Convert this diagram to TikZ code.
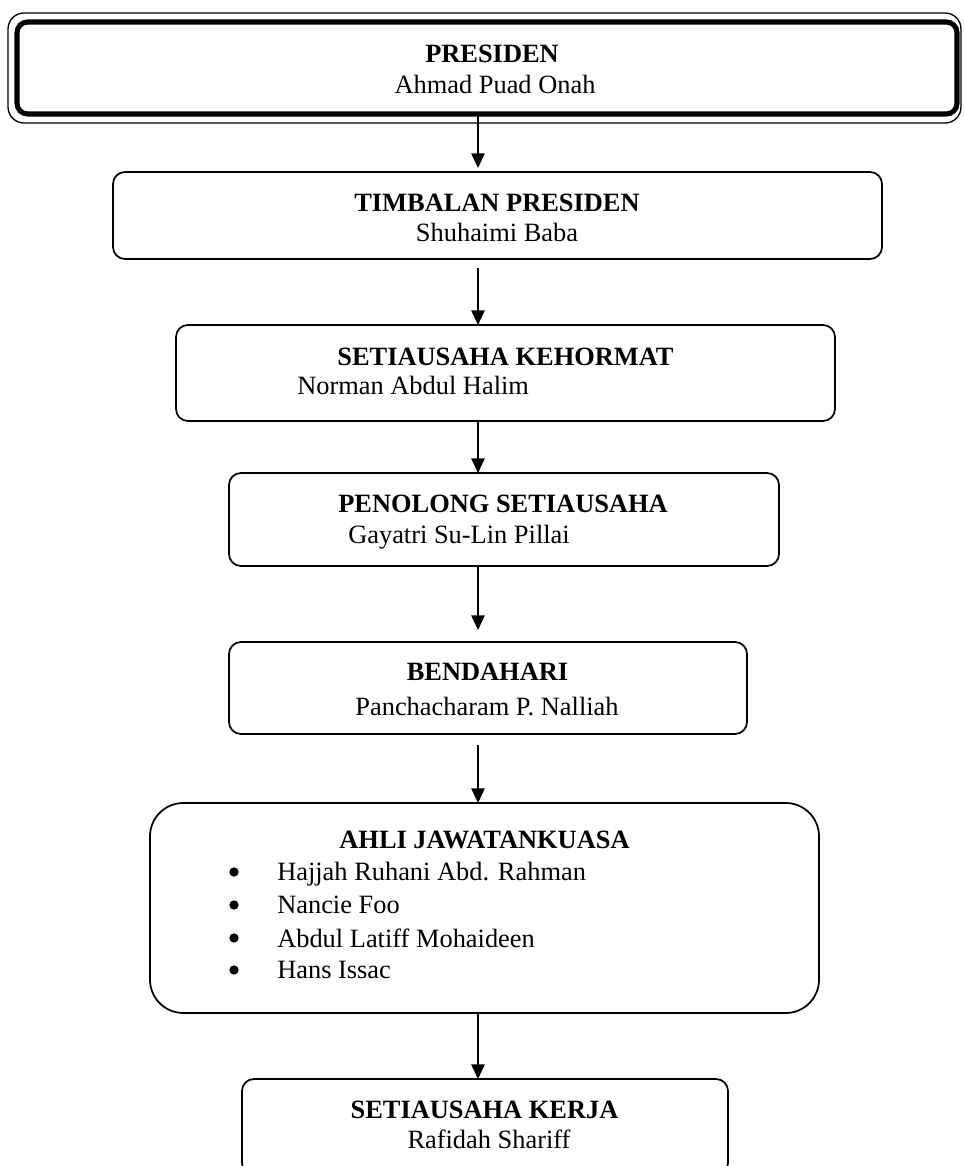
\documentclass[tikz,border=0pt]{standalone}
\usepackage{fontspec}
\setmainfont{Liberation Serif}
\usetikzlibrary{arrows.meta}
\newcommand{\orgsize}{\fontsize{19.8pt}{24pt}\selectfont}

\begin{document}
\begin{tikzpicture}[x=0.75pt,y=-0.75pt,>={Triangle[width=10pt,length=11pt]},
        post/.style={draw,line width=1.3pt,rounded corners=9pt,inner sep=0pt,outer sep=0pt},
        title/.style={anchor=base,inner sep=0pt,font=\orgsize\bfseries},
        person/.style={anchor=base,inner sep=0pt,font=\orgsize},
        member/.style={anchor=base west,inner sep=0pt,font=\orgsize},
        dot/.style={circle,fill,inner sep=0pt,minimum size=7pt},
        link/.style={->,line width=1.3pt}]
        \path[use as bounding box,clip] (0,0) rectangle (963,1166);
        \coordinate (spine) at (478,0);

        \node[post,line width=3.8pt,rounded corners=8pt,minimum width=705pt,minimum height=69pt] (presiden) at (487,68) {};
        \draw[line width=1pt,rounded corners=12pt] ([shift={(-9,-9)}]presiden.north west) rectangle ([shift={(4,9)}]presiden.south east);
        \node[post,minimum width=576.75pt,minimum height=65.25pt] (timbalan) at (497.5,215.5) {};
        \node[post,minimum width=494.25pt,minimum height=72pt] (kehormat) at (505.5,373) {};
        \node[post,minimum width=412.5pt,minimum height=69.75pt] (penolong) at (504,519.5) {};
        \node[post,minimum width=388.5pt,minimum height=69pt] (bendahari) at (488,688) {};
        \node[post,rounded corners=25pt,minimum width=501.75pt,minimum height=157.5pt] (ajk) at (484.5,908) {};
        \node[post,minimum width=364.5pt,minimum height=72pt] (kerja) at (485,1127) {};

        \draw[link,shorten >=3pt] (presiden.south -| spine) -- (timbalan.north -| spine);
        \draw[link,shorten <=6.75pt] (timbalan.south -| spine) -- (kehormat.north -| spine);
        \draw[link] (kehormat.south -| spine) -- (penolong.north -| spine);
        \draw[link,shorten >=9pt] (penolong.south -| spine) -- (bendahari.north -| spine);
        \draw[link,shorten <=8pt] (bendahari.south -| spine) -- (ajk.north -| spine);
        \draw[link] (ajk.south -| spine) -- (kerja.north -| spine);

        \node[title] (tPresiden) at (492,63) {PRESIDEN};
        \node[person] (nPresiden) at (495,94) {Ahmad Puad Onah};
        \node[title] (tTimbalan) at (497,212) {TIMBALAN PRESIDEN};
        \node[person] (nTimbalan) at (497,242) {Shuhaimi Baba};
        \node[title] (tKehormat) at (505.5,365) {SETIAUSAHA KEHORMAT};
        \node[member] (nKehormat) at (297,394) {Norman Abdul Halim};
        \node[title] (tPenolong) at (503,512) {PENOLONG SETIAUSAHA};
        \node[member] (nPenolong) at (348,543) {Gayatri Su-Lin Pillai};
        \node[title] (tBendahari) at (487.5,680) {BENDAHARI};
        \node[person] (nBendahari) at (487,715) {Panchacharam P. Nalliah};
        \node[title] (tAjk) at (484.5,848) {AHLI JAWATANKUASA};
        \node[dot] (dAjk1) at (234,872) {};
        \node[member] (mAjk1) at (277,880) {Hajjah Ruhani Abd. Rahman};
        \node[dot] (dAjk2) at (234,905) {};
        \node[member] (mAjk2) at (277,913) {Nancie Foo};
        \node[dot] (dAjk3) at (234,938) {};
        \node[member] (mAjk3) at (277,947) {Abdul Latiff Mohaideen};
        \node[dot] (dAjk4) at (234,970) {};
        \node[member] (mAjk4) at (277,978) {Hans Issac};
        \node[title] (tKerja) at (484.5,1118) {SETIAUSAHA KERJA};
        \node[person] (nKerja) at (489,1148) {Rafidah Shariff};
    \end{tikzpicture}
\end{document}
